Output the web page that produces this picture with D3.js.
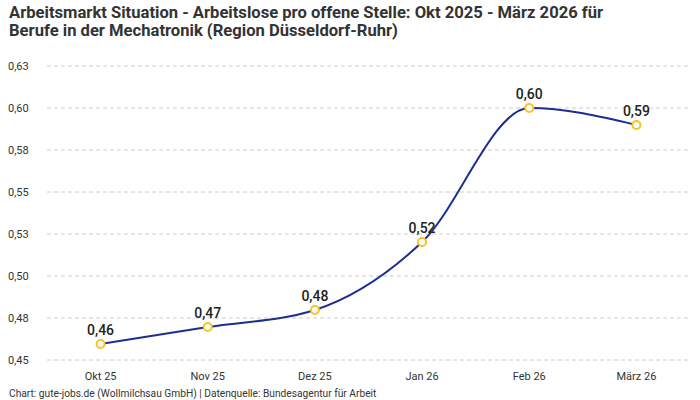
<!DOCTYPE html>
<html>
<head>
    <meta charset="utf-8">
    <script src="https://d3js.org/d3.v7.min.js"></script>
    <style>
        body { margin: 0; background: #fff; }
        svg { font-family: Roboto, "Noto Sans", sans-serif; }
    </style>
</head>
<body>
    <div id="chart"></div>
    <script>
        // data
        const months = ["Okt 25", "Nov 25", "Dez 25", "Jan 26", "Feb 26", "März 26"];
        const values = [0.4595, 0.4696, 0.4798, 0.5202, 0.6, 0.5899];
        const valueLabels = ["0,46", "0,47", "0,48", "0,52", "0,60", "0,59"];
        const yTicks = [0.45, 0.475, 0.5, 0.525, 0.55, 0.575, 0.6, 0.625];

        const width = 700, height = 400;
        const margin = { top: 66, right: 10, bottom: 40, left: 47 };

        const svg = d3.select("#chart").append("svg")
            .attr("width", width)
            .attr("height", height);

        // title
        const title = svg.append("text")
            .attr("x", 9)
            .attr("font-size", 16.6)
            .attr("font-weight", "bold")
            .attr("fill", "#333");
        title.append("tspan").attr("x", 9).attr("y", 18)
            .text("Arbeitsmarkt Situation - Arbeitslose pro offene Stelle: Okt 2025 - März 2026 für");
        title.append("tspan").attr("x", 9).attr("y", 36)
            .text("Berufe in der Mechatronik (Region Düsseldorf-Ruhr)");

        const x = d3.scalePoint()
            .domain(months)
            .range([margin.left, width - margin.right])
            .padding(0.5);

        const y = d3.scaleLinear()
            .domain([0.45, 0.625])
            .range([360, margin.top]);

        // grid + y labels
        const grid = svg.append("g");
        grid.selectAll("line")
            .data(yTicks)
            .enter().append("line")
            .attr("x1", margin.left)
            .attr("x2", width - margin.right)
            .attr("y1", d => y(d))
            .attr("y2", d => y(d))
            .attr("stroke", "#ccc")
            .attr("stroke-dasharray", "4,3");
        grid.selectAll("text")
            .data(yTicks)
            .enter().append("text")
            .attr("x", 8)
            .attr("y", d => y(d) + 4)
            .attr("font-size", 11)
            .attr("fill", "#333")
            .text(d => d3.format(".2f")(d + 1e-9).replace(".", ","));

        // x labels
        svg.append("g").selectAll("text")
            .data(months)
            .enter().append("text")
            .attr("x", d => x(d))
            .attr("y", 380)
            .attr("text-anchor", "middle")
            .attr("font-size", 11)
            .attr("fill", "#333")
            .text(d => d);

        // line
        const line = d3.line()
            .x((d, i) => x(months[i]))
            .y(d => y(d))
            .curve(d3.curveMonotoneX);

        svg.append("path")
            .datum(values)
            .attr("d", line)
            .attr("fill", "none")
            .attr("stroke", "#1c2f91")
            .attr("stroke-width", 2);

        svg.append("g").selectAll("circle")
            .data(values)
            .enter().append("circle")
            .attr("cx", (d, i) => x(months[i]))
            .attr("cy", d => y(d))
            .attr("r", 4)
            .attr("fill", "#fff")
            .attr("stroke", "#f7c325")
            .attr("stroke-width", 2);

        svg.append("g").selectAll("text")
            .data(values)
            .enter().append("text")
            .attr("x", (d, i) => x(months[i]))
            .attr("y", d => y(d) - 9)
            .attr("text-anchor", "middle")
            .attr("font-size", 14)
            .attr("font-weight", 500)
            .attr("fill", "#222")
            .text((d, i) => valueLabels[i]);

        // footer
        svg.append("text")
            .attr("x", 9)
            .attr("y", 397)
            .attr("font-size", 10.2)
            .attr("fill", "#333")
            .text("Chart: gute-jobs.de (Wollmilchsau GmbH) | Datenquelle: Bundesagentur für Arbeit");
    </script>
</body>
</html>
